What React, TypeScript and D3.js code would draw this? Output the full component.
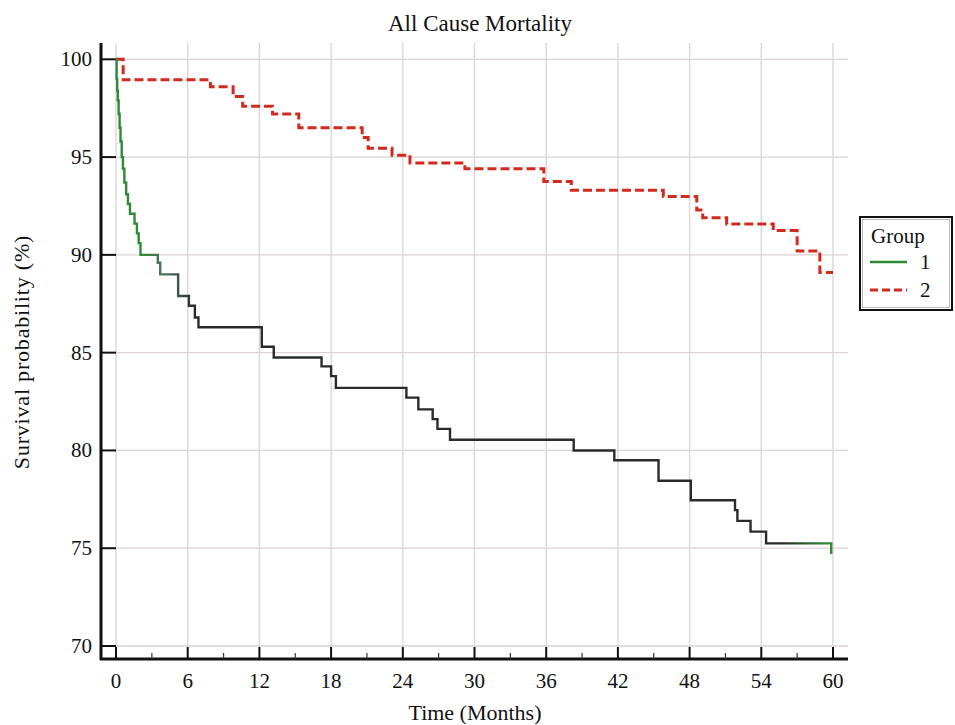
import React from "react";
import * as d3 from "d3";

const g1Times = [0, 0.05, 0.1, 0.15, 0.22, 0.3, 0.38, 0.48, 0.58, 0.7, 0.85, 1.0, 1.17, 1.55, 1.75, 1.9, 2.05, 3.5, 3.7, 5.2, 6.1, 6.6, 6.9, 12.2, 13.2, 17.2, 18.0, 18.4, 24.3, 25.3, 26.5, 26.9, 27.95, 38.3, 41.7, 45.4, 48.1, 51.8, 52.0, 53.1, 54.4, 59.85];
const g1Surv = [100, 99.0, 98.4, 97.9, 97.2, 96.5, 95.8, 95.0, 94.4, 93.7, 93.1, 92.6, 92.1, 91.6, 91.1, 90.6, 90.0, 89.6, 89.0, 87.9, 87.4, 86.8, 86.3, 85.3, 84.75, 84.3, 83.8, 83.2, 82.7, 82.1, 81.6, 81.1, 80.55, 80.0, 79.5, 78.45, 77.45, 76.95, 76.4, 75.85, 75.25, 74.7];

const g2Times = [0, 0.6, 7.9, 9.8, 10.6, 13.1, 15.3, 20.6, 21.1, 23.1, 24.6, 29.2, 35.8, 38.1, 45.8, 48.6, 49.1, 51.1, 55.0, 57.0, 58.9, 60];
const g2Surv = [100, 98.95, 98.6, 98.1, 97.6, 97.2, 96.5, 96.0, 95.45, 95.1, 94.7, 94.4, 93.75, 93.3, 92.98, 92.3, 91.9, 91.58, 91.24, 90.2, 89.1, 89.1];

const xTicks = [0, 6, 12, 18, 24, 30, 36, 42, 48, 54, 60];
const xMinorTicks = [3, 9, 15, 21, 27, 33, 39, 45, 51, 57];
const yTicks = [70, 75, 80, 85, 90, 95, 100];
const groupLabels = ["1", "2"];

const FONT = "'Liberation Serif', 'Times New Roman', serif";

export default function App() {
  const x = d3.scaleLinear().domain([0, 60]).range([116, 833]);
  const y = d3.scaleLinear().domain([70, 100]).range([646, 59.3]);
  const axisX = 101;
  const axisY = 659;
  const top = 43;
  const gridRight = 848;

  const line = d3
    .line<[number, number]>()
    .x((d) => x(d[0]))
    .y((d) => y(d[1]))
    .curve(d3.curveStepAfter);

  const g1 = g1Times.map((t, i) => [t, g1Surv[i]] as [number, number]);
  const g2 = g2Times.map((t, i) => [t, g2Surv[i]] as [number, number]);

  const green = "#2f8a35";
  const dark = "#2a2a2a";
  const red = "#d12a1f";
  const grid = "#dcd2d2";

  return (
    <svg width={955} height={725} style={{ position: "absolute", left: 0, top: 0, background: "#fff" }} fontFamily={FONT}>
      <defs>
        <linearGradient id="g1grad" gradientUnits="userSpaceOnUse" x1={x(0)} x2={x(60)} y1={0} y2={0}>
          <stop offset={0} stopColor={green} />
          <stop offset={0.035} stopColor={green} />
          <stop offset={0.07} stopColor="#4f6f5f" />
          <stop offset={0.11} stopColor={dark} />
          <stop offset={0.93} stopColor={dark} />
          <stop offset={0.99} stopColor={green} />
          <stop offset={1} stopColor={green} />
        </linearGradient>
      </defs>
      <rect x={0} y={0} width={955} height={725} fill="#fff" />
      <text x={480} y={31} textAnchor="middle" fontSize={23} fill="#111">
        All Cause Mortality
      </text>
      {/* grid */}
      {yTicks.map((v) => (
        <line key={"hy" + v} x1={x(0)} x2={gridRight} y1={y(v)} y2={y(v)} stroke={grid} strokeWidth={1.3} />
      ))}
      {xTicks.map((v) => (
        <line key={"vx" + v} x1={x(v)} x2={x(v)} y1={top} y2={axisY} stroke={grid} strokeWidth={1.3} />
      ))}
      {/* axes */}
      <line x1={axisX} x2={axisX} y1={top} y2={axisY + 1} stroke="#111" strokeWidth={3} />
      <line x1={axisX - 1} x2={gridRight} y1={axisY} y2={axisY} stroke="#111" strokeWidth={3} />
      {yTicks.map((v) => (
        <g key={"yt" + v}>
          <line x1={axisX} x2={x(0)} y1={y(v)} y2={y(v)} stroke="#111" strokeWidth={2} />
          <text x={92} y={y(v)} textAnchor="end" dominantBaseline="central" fontSize={21} fill="#111">
            {v}
          </text>
        </g>
      ))}
      {xTicks.map((v) => (
        <g key={"xt" + v}>
          <line x1={x(v)} x2={x(v)} y1={axisY} y2={axisY - 12} stroke="#111" strokeWidth={2} />
          <text x={x(v)} y={688} textAnchor="middle" fontSize={21} fill="#111">
            {v}
          </text>
        </g>
      ))}
      {xMinorTicks.map((v) => (
        <line key={"xm" + v} x1={x(v)} x2={x(v)} y1={axisY} y2={axisY - 6} stroke="#333" strokeWidth={1.2} />
      ))}
      <text x={475} y={720} textAnchor="middle" fontSize={22} fill="#111">
        Time (Months)
      </text>
      <text transform={`translate(29, 352) rotate(-90)`} textAnchor="middle" fontSize={22} letterSpacing={0.8} fill="#111">
        Survival probability (%)
      </text>
      {/* curves */}
      <path d={line(g2) || ""} fill="none" stroke={red} strokeWidth={3} strokeDasharray="9 4" />
      <path d={line(g1) || ""} fill="none" stroke="url(#g1grad)" strokeWidth={2.4} />
      {/* legend */}
      <rect x={860} y={217} width={92} height={93} fill="#fff" stroke="#111" strokeWidth={2} />
      <rect x={862.5} y={219.5} width={87} height={88} fill="none" stroke="#bbb" strokeWidth={1} />
      <text x={871} y={243} fontSize={21} fill="#111">Group</text>
      <line x1={870} x2={907} y1={262} y2={262} stroke={green} strokeWidth={2.4} />
      <text x={920} y={269} fontSize={21} fill="#111">{groupLabels[0]}</text>
      <line x1={870} x2={907} y1={290} y2={290} stroke={red} strokeWidth={3} strokeDasharray="8 4" />
      <text x={920} y={297} fontSize={21} fill="#111">{groupLabels[1]}</text>
    </svg>
  );
}
